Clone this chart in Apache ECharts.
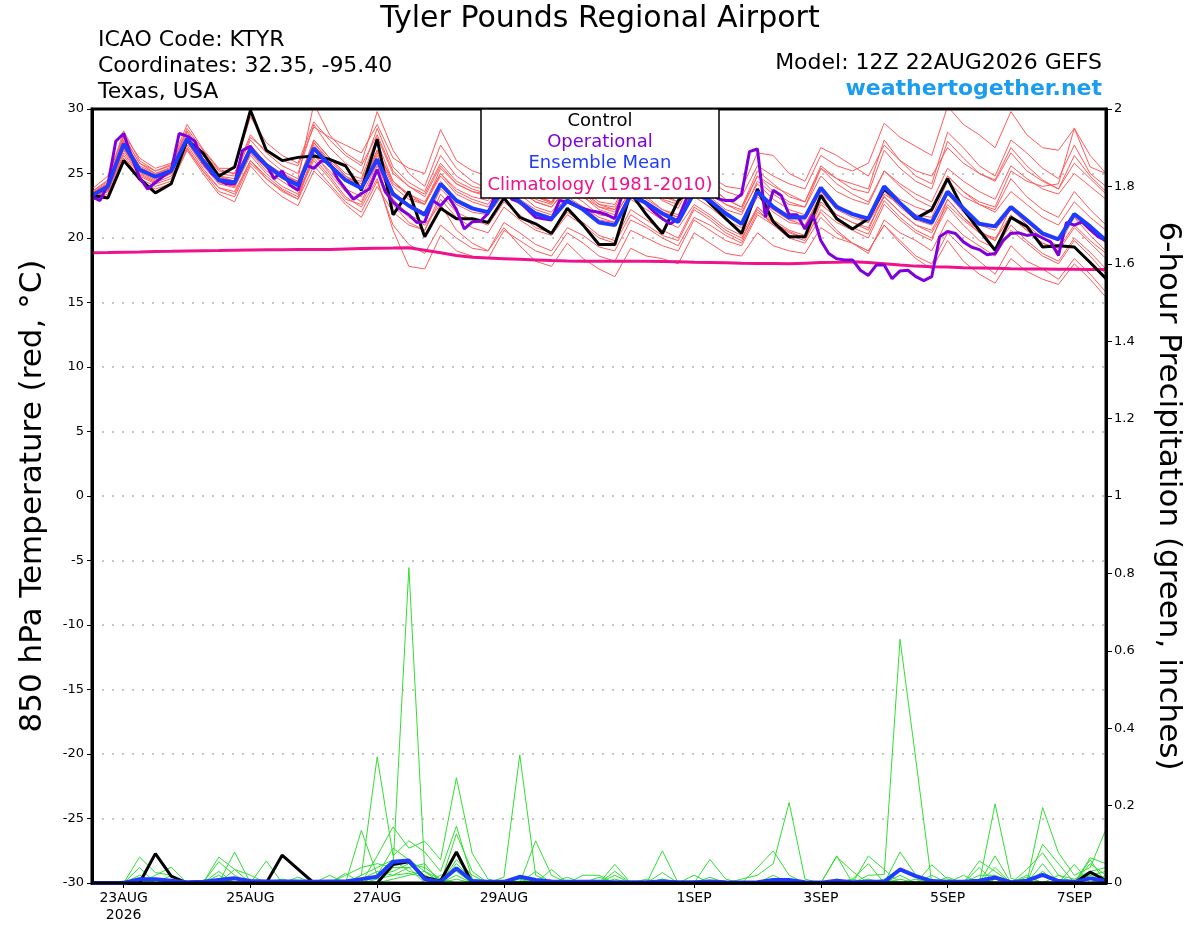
<!DOCTYPE html>
<html>
<head>
<meta charset="utf-8">
<script src="https://cdn.jsdelivr.net/npm/echarts@6/dist/echarts.min.js"></script>
<style>
html,body{margin:0;padding:0;background:#fff;}
#chart{width:1200px;height:927px;}
</style>
</head>
<body>
<div id="chart"></div>
<script>
// ---------- DATA ----------
// forecast hours start 12Z 22AUG2026; ensemble 6-hourly, operational 3-hourly
const ensStepHours = 6;
const opStepHours = 3;

const xTickHours = [12, 60, 108, 156, 228, 276, 324, 372];
const xTickLabels = ['23AUG\n2026', '25AUG', '27AUG', '29AUG', '1SEP', '3SEP', '5SEP', '7SEP'];

const controlTemp = [23.3,23.1,26.0,24.6,23.5,24.2,27.6,26.6,24.8,25.5,
  29.9,26.8,26.0,26.25,26.35,26.1,25.6,23.7,27.65,21.8,
  23.6,20.1,22.3,21.5,21.5,21.2,23.1,21.6,21.1,20.35,
  22.3,21.0,19.5,19.5,23.5,21.8,20.35,22.9,24.0,22.7,
  21.5,20.35,23.8,21.25,20.1,20.1,23.3,21.5,20.7,21.5,
  23.8,22.7,21.5,22.2,24.6,22.2,20.6,19.05,21.6,20.9,
  19.3,19.4,19.3,18.1,16.85];

const meanTemp = [23.3,24.0,27.3,25.3,24.75,25.2,27.7,26.0,24.5,24.3,
  26.9,25.65,24.75,24.1,26.95,25.65,24.5,23.85,26.1,23.4,
  22.5,21.8,24.2,22.9,22.3,22.0,23.8,22.8,21.9,21.5,
  22.9,22.2,21.2,21.0,23.3,22.7,21.9,21.25,23.5,22.9,
  21.9,21.1,23.6,22.4,21.6,21.6,23.9,22.4,21.85,21.5,
  24.0,22.7,21.6,21.2,23.6,22.3,21.1,20.9,22.4,21.4,
  20.35,19.9,21.85,20.9,19.8];

const operationalTemp = [23.2,22.9,24.1,27.5,28.1,26.3,24.7,23.8,24.3,24.8,
  25.2,28.1,27.9,27.5,25.9,25.1,24.5,24.2,24.2,26.8,
  27.1,26.2,25.65,24.6,25.2,24.1,23.7,25.65,25.4,26.0,
  25.8,24.6,23.8,23.0,23.45,23.8,25.3,23.6,22.8,22.2,
  21.8,21.2,21.25,22.9,22.5,23.2,22.2,20.7,21.25,21.3,
  21.9,23.5,24.0,23.0,22.8,22.2,21.6,21.5,21.4,22.9,
  22.8,22.5,22.3,22.1,22.0,21.8,21.5,23.5,24.5,23.2,
  22.6,22.0,21.5,21.1,21.5,23.0,24.5,24.0,23.5,23.05,
  22.9,22.9,23.4,26.7,26.9,21.6,23.7,23.3,21.8,21.8,
  20.7,21.8,19.8,18.8,18.4,18.3,18.3,17.5,17.1,17.9,
  17.9,16.85,17.45,17.5,17.0,16.7,17.0,20.1,20.5,20.35,
  19.7,19.3,19.1,18.7,18.8,19.8,20.35,20.4,20.2,20.3,
  20.0,19.7,18.65,21.2,21.0,21.25,20.65,20.1,19.8];

const climatologyTemp = [18.85,18.87,18.9,18.92,18.95,18.97,19.0,19.02,19.03,19.05,
  19.07,19.08,19.08,19.1,19.1,19.1,19.15,19.18,19.2,19.22,
  19.25,19.05,18.85,18.65,18.5,18.45,18.4,18.35,18.3,18.25,
  18.22,18.2,18.2,18.2,18.2,18.2,18.18,18.15,18.12,18.1,
  18.08,18.05,18.03,18.02,18.0,18.05,18.1,18.12,18.15,18.1,
  18.0,17.9,17.82,17.78,17.75,17.7,17.68,17.65,17.62,17.6,
  17.6,17.58,17.57,17.56,17.55];

const memberTempA = [23.6,24.5,28.3,26.0,25.2,25.6,28.5,26.8,25.3,25.0,28.0,26.6,25.6,25.0,28.8,27.0,25.8,25.0,28.5,25.5,24.3,23.6,26.4,24.8,24.0,23.7,25.6,24.2,23.2,22.7,24.4,23.5,22.4,22.0,24.6,23.8,22.9,22.3,24.8,24.0,23.0,22.4,25.2,24.2,23.2,22.8,25.6,24.6,23.8,23.5,26.8,25.4,24.4,23.8,27.5,26.2,25.0,24.5,27.0,25.6,24.5,23.8,26.4,24.8,23.6];
const memberTempB = [23.0,23.6,26.6,24.8,24.2,24.6,27.2,25.4,23.9,23.6,26.0,24.6,23.7,23.0,25.6,24.2,22.8,22.0,24.4,21.0,19.5,18.8,21.0,20.0,19.2,19.0,21.2,20.4,19.5,19.0,20.8,20.2,19.3,19.0,21.4,20.8,20.0,19.4,21.6,21.0,20.2,19.6,22.0,21.2,20.5,20.0,22.6,21.6,20.8,20.3,22.9,21.6,20.6,20.0,22.4,21.0,19.8,19.2,21.0,19.8,18.8,18.2,20.0,18.9,17.6];
const memberTempC = [23.4,24.2,27.8,25.8,25.0,25.5,28.2,26.4,25.0,24.8,27.6,26.2,25.2,24.6,30.4,28.0,26.6,25.8,29.8,26.8,25.0,24.0,27.2,25.4,24.4,23.8,25.8,24.4,23.4,22.8,24.6,23.6,22.6,22.2,24.0,23.2,22.2,21.8,23.6,22.8,21.8,21.2,23.4,22.0,21.2,21.0,23.2,21.8,21.2,20.8,23.2,22.0,21.0,20.6,23.0,21.6,20.4,20.0,21.6,20.6,19.6,19.2,21.0,19.8,18.8];
const memberTempD = [23.2,23.8,27.0,25.0,24.4,25.0,27.5,25.8,24.4,24.0,26.6,25.2,24.4,23.6,26.2,24.8,23.2,22.4,24.6,20.6,17.8,17.6,20.2,19.0,18.6,18.4,20.6,19.8,19.0,18.6,20.4,19.6,18.6,18.2,20.6,20.0,19.4,19.0,21.4,20.6,19.8,19.4,21.8,21.0,20.2,19.8,22.2,21.2,20.6,20.0,22.6,21.4,20.4,19.8,23.0,21.6,20.6,19.8,22.4,21.0,20.0,19.4,21.6,20.2,19.0];
const memberTempE = [23.5,24.3,27.6,25.6,25.0,25.4,27.9,26.2,24.8,24.6,27.2,25.8,25.0,24.4,27.4,26.0,24.8,24.2,26.8,24.2,23.4,22.8,25.0,23.8,23.2,22.9,24.6,23.6,22.8,22.4,23.8,23.2,22.4,22.2,24.4,23.8,23.2,22.8,25.0,24.4,23.6,23.2,25.6,24.8,24.2,23.8,26.4,25.6,25.2,25.8,28.9,27.8,27.1,26.4,30.2,28.8,28.0,27.0,29.8,28.0,27.0,26.8,28.5,25.5,25.0];
const memberTempF = [23.1,23.9,26.9,25.1,24.5,25.0,27.4,25.6,24.2,23.9,26.4,25.0,24.0,23.4,26.0,24.6,23.0,22.6,25.2,22.6,21.2,20.6,23.4,22.0,21.4,21.0,22.8,21.8,20.8,20.4,22.0,21.2,20.2,19.8,22.2,21.4,20.6,20.0,22.4,21.6,20.6,20.0,22.2,21.0,20.0,19.6,21.6,20.4,19.6,19.0,21.0,19.8,18.6,18.0,20.4,19.2,18.2,17.2,19.4,18.2,17.6,16.8,18.4,17.2,15.8];
const memberTempG = [23.8,24.8,28.0,26.2,25.4,25.8,28.8,26.9,25.4,25.4,29.4,27.4,26.4,25.8,29.0,27.6,26.4,25.6,28.0,25.2,24.0,23.2,25.6,24.2,23.6,23.4,25.2,24.0,23.0,22.6,24.4,23.6,22.6,22.4,24.6,23.8,23.0,22.6,24.8,24.0,23.0,22.4,24.8,23.6,22.8,22.4,24.8,23.6,23.0,22.6,25.2,24.0,23.0,22.4,24.8,23.6,22.6,22.0,23.6,22.6,21.6,21.0,22.8,21.6,20.6];
const memberTempH = [23.3,24.0,27.2,25.2,24.6,25.1,27.6,25.9,24.6,24.2,26.8,25.6,24.8,24.2,27.0,25.6,24.4,23.8,26.4,23.6,22.6,22.0,24.4,23.0,22.4,22.0,23.8,22.8,22.0,21.6,23.0,22.2,21.2,21.0,23.2,22.6,21.8,21.2,23.4,22.8,21.8,21.0,23.4,22.2,21.4,21.4,23.6,22.2,21.6,21.2,23.6,22.4,21.4,21.0,23.4,22.0,21.0,20.6,22.2,21.2,20.2,19.8,21.6,20.6,19.6];
const memberTempI = [22.9,23.4,26.2,24.4,23.8,24.2,26.8,25.0,23.4,22.8,25.6,24.2,23.2,22.5,25.2,24.0,22.6,21.6,24.0,22.0,21.0,20.6,23.0,21.6,20.8,20.4,22.4,21.4,20.6,20.2,21.8,21.0,20.0,19.6,21.8,21.0,20.2,19.8,22.2,21.4,20.4,19.8,22.4,21.4,20.6,20.2,22.8,21.8,21.2,20.6,23.4,22.6,21.8,21.6,24.4,23.2,22.6,22.2,24.6,23.2,22.2,21.6,23.6,22.2,21.0];
const memberTempJ = [23.6,24.4,27.9,25.8,25.2,25.7,28.3,26.6,25.2,25.0,27.8,26.8,26.0,25.6,28.6,27.8,27.2,26.6,28.8,26.2,25.4,25.0,28.4,26.0,25.2,24.8,26.2,25.0,24.2,23.8,25.2,24.2,23.4,23.0,25.0,24.2,23.4,22.8,24.6,23.6,22.6,22.0,24.2,23.0,22.2,21.8,23.8,22.6,21.8,21.2,23.2,22.0,21.0,20.4,22.6,21.4,20.4,19.8,21.8,20.6,19.6,19.0,20.8,19.6,18.4];
const memberTempK = [23.2,23.7,26.8,24.9,24.3,24.8,27.0,25.2,23.6,23.2,25.8,24.6,23.6,23.0,26.4,25.2,23.8,23.2,25.8,22.8,21.6,21.0,22.6,20.6,19.6,19.0,20.8,19.4,18.2,17.8,19.6,18.4,17.6,17.0,19.2,18.6,18.4,18.0,20.4,19.6,18.8,18.6,20.4,19.4,19.0,18.8,20.8,20.0,19.6,18.8,21.4,20.4,19.8,19.0,21.4,20.2,19.4,18.6,20.6,19.6,18.6,18.0,19.8,18.6,17.2];
const memberTempL = [23.4,24.1,27.4,25.5,24.9,25.3,27.8,26.1,24.7,24.4,27.0,25.7,24.9,24.3,27.2,25.8,24.6,24.0,26.6,24.0,23.0,22.6,25.4,24.2,23.6,23.2,24.8,24.0,23.2,22.8,24.6,23.8,22.8,22.6,24.8,24.4,23.6,23.2,25.6,24.8,24.0,23.8,26.6,26.4,25.0,24.4,27.0,26.4,25.6,24.8,27.2,26.0,25.2,24.8,27.0,25.8,25.0,24.4,26.6,25.2,24.4,23.8,25.8,24.6,23.4];
const memberTempM = [23.0,23.8,27.1,25.3,24.7,25.0,27.4,25.7,24.3,24.0,26.6,25.4,24.6,24.0,27.6,26.2,24.8,24.0,26.8,24.4,23.4,22.6,24.8,23.4,22.8,22.4,24.0,23.0,22.2,21.8,23.2,22.4,21.4,21.2,23.0,22.2,21.4,20.8,22.6,21.8,20.8,20.2,22.4,21.2,20.4,20.0,22.0,20.6,19.6,19.0,21.0,19.6,18.4,17.6,19.8,18.2,17.2,16.5,18.4,17.4,16.8,16.4,18.0,16.8,15.4];
const memberTempN = [23.5,24.2,27.5,25.4,24.8,25.2,27.7,26.0,24.6,24.4,27.0,25.6,24.8,24.2,27.4,25.8,24.6,24.4,27.4,24.4,23.2,22.6,25.0,23.6,23.0,22.6,24.4,23.4,22.4,22.0,23.6,22.8,21.8,21.6,23.8,23.0,22.2,21.6,23.8,23.2,22.2,21.8,24.4,23.4,22.6,22.4,25.4,24.6,24.2,23.8,27.6,26.0,24.8,24.2,28.2,27.0,25.6,24.8,27.6,26.6,25.4,24.6,27.2,25.0,24.0];
const memberTempO = [23.1,23.6,26.4,24.6,24.0,24.4,26.9,25.2,23.9,23.4,26.0,24.8,23.8,23.2,26.6,25.0,23.6,22.8,25.6,23.0,21.8,21.2,23.8,22.6,22.0,21.8,23.4,22.6,21.8,21.4,23.0,22.4,21.6,21.2,23.6,22.8,22.0,21.6,24.0,23.4,22.6,22.2,24.8,24.0,23.4,22.8,25.4,24.2,23.4,22.8,25.2,24.2,23.4,22.8,25.4,24.4,23.6,23.0,25.6,24.6,23.8,23.4,25.0,24.0,23.0];
const memberTempP = [23.4,24.0,27.4,25.4,24.8,25.4,27.8,26.2,24.8,24.4,27.2,25.8,24.8,24.4,27.6,26.2,25.0,24.6,27.8,25.0,24.0,23.4,25.8,24.4,23.8,23.4,25.0,23.8,22.8,22.4,24.0,23.2,22.2,21.8,23.6,22.8,22.0,21.4,23.2,22.4,21.4,20.8,23.2,22.2,21.4,21.0,23.4,22.4,21.8,21.4,24.0,23.0,22.4,22.0,24.8,23.6,22.8,22.4,25.2,24.4,24.0,24.2,28.5,26.4,25.0];

const memberTemps = [memberTempA, memberTempB, memberTempC, memberTempD, memberTempE, memberTempF, memberTempG, memberTempH,
  memberTempI, memberTempJ, memberTempK, memberTempL, memberTempM, memberTempN, memberTempO, memberTempP];

const controlPrecip = [0,0,0,0,0.076,0.018,0,0,0,0,
  0,0,0.072,0.036,0,0,0,0,0,0.048,
  0.055,0.014,0.005,0.08,0,0,0,0,0,0,
  0,0,0,0,0,0,0,0,0,0,
  0,0,0,0,0,0,0,0,0,0,
  0,0,0,0,0,0,0,0,0,0,
  0,0,0,0.028,0.006];

const meanPrecip = [0,0,0,0.01,0.01,0.006,0.002,0.003,0.008,0.012,
  0.005,0.004,0.004,0.004,0.003,0.004,0.004,0.01,0.016,0.055,
  0.058,0.01,0.003,0.038,0.005,0.003,0.003,0.016,0.008,0.004,
  0.003,0.003,0.003,0.002,0.002,0.002,0.004,0.002,0.002,0.004,
  0.002,0.001,0.002,0.008,0.008,0.002,0.001,0.006,0.002,0.003,
  0.003,0.035,0.018,0.005,0.003,0.003,0.006,0.014,0.002,0.006,
  0.021,0.005,0.003,0.012,0.005];

const memberPrecip1 = [0,0,0,0.02,0,0,0,0,0.03,0, 0,0,0,0,0,0,0.02,0.04,0.05,0.04, 0.815,0.03,0,0.06,0.02,0,0,0,0.03,0, 0,0,0,0.03,0,0,0.083,0,0,0, 0,0,0,0.02,0,0,0,0,0.01,0.05, 0,0,0,0,0,0,0.04,0,0,0, 0.1,0.05,0,0.06,0];
const memberPrecip2 = [0,0,0,0.067,0.027,0.02,0,0,0,0.08, 0,0,0,0,0,0,0,0.02,0.326,0.07, 0.109,0.08,0.03,0.147,0.01,0,0,0.02,0,0, 0,0,0,0,0,0,0.027,0,0,0, 0,0,0,0,0.01,0,0,0.07,0,0, 0,0.08,0.02,0,0,0,0,0.07,0,0.035, 0.078,0.02,0,0.065,0.05];
const memberPrecip3 = [0,0,0,0,0.02,0.041,0,0,0.067,0.035, 0,0,0,0.015,0,0,0.025,0,0.07,0.145, 0.09,0.108,0.06,0.272,0.076,0.01,0,0,0,0.035, 0,0,0,0.048,0,0,0,0,0,0.061, 0.01,0,0,0,0,0,0,0,0,0.07, 0.035,0,0,0,0,0.02,0,0.204,0.012,0, 0,0,0.048,0,0.02];
const memberPrecip4 = [0,0,0,0.04,0,0,0,0,0.055,0.02, 0,0.057,0,0,0,0,0,0.136,0.02,0.09, 0.06,0.03,0,0.127,0.03,0,0.015,0.331,0.02,0, 0,0.02,0.02,0,0,0,0,0,0,0, 0,0,0.04,0.083,0.02,0,0,0.068,0.03,0, 0,0,0,0.047,0.01,0,0,0,0,0, 0.05,0,0,0.03,0];
const memberPrecip5 = [0,0,0,0,0,0.02,0,0,0,0.035, 0.02,0,0.01,0,0,0.02,0,0,0,0.04, 0.04,0,0.02,0.03,0,0,0,0,0.109,0.02, 0,0,0.015,0,0,0,0.01,0,0.02,0, 0,0.01,0.02,0.05,0.208,0.01,0,0,0,0.02, 0.022,0.63,0.318,0,0,0,0.057,0.03,0,0, 0.195,0.078,0.02,0.04,0.139];
const memberPrecip6 = [0,0,0,0.01,0,0,0,0,0.02,0, 0,0,0,0,0,0,0,0.01,0.03,0.02, 0.04,0.05,0,0.02,0,0,0,0,0.01,0, 0,0,0,0.01,0,0,0.01,0,0,0, 0,0,0,0,0,0,0,0,0,0.01, 0,0.02,0,0,0,0,0.02,0.02,0,0.02, 0,0,0,0.02,0.03];
const memberPrecip7 = [0,0,0,0,0.01,0,0,0,0,0.01, 0,0,0,0,0,0,0,0,0.02,0.03, 0.05,0.04,0.01,0,0.005,0,0,0.01,0,0, 0,0,0,0,0,0,0,0,0,0.015, 0,0,0,0,0,0,0,0.01,0,0, 0.01,0,0,0.02,0,0,0,0.04,0,0, 0.03,0,0,0.05,0.02];
const memberPrecip8 = [0,0,0.005,0,0,0.01,0,0,0.01,0, 0,0,0,0,0,0,0,0.02,0.04,0.06, 0.03,0.02,0,0.05,0.01,0,0,0,0,0, 0.015,0,0,0.02,0,0.01,0,0,0,0, 0,0,0,0,0.01,0,0,0,0.01,0, 0,0,0.01,0,0.015,0,0,0.01,0,0.015, 0,0.02,0.01,0.03,0.04];
const memberPrecip9 = [0,0,0,0,0,0,0,0,0,0, 0,0,0,0,0,0,0,0,0.01,0.02, 0.025,0.015,0,0.01,0,0,0,0,0,0.005, 0,0,0,0,0,0,0,0,0,0, 0,0,0,0,0,0,0,0.005,0,0, 0,0,0,0,0,0,0.01,0,0,0, 0.02,0,0,0.02,0];
const memberPrecip10 = [0,0,0,0,0,0,0,0,0.005,0, 0,0,0,0,0,0,0,0,0,0.01, 0.02,0.03,0.01,0,0,0,0,0.005,0,0, 0,0,0,0,0,0,0,0,0,0, 0,0,0,0.005,0,0,0,0,0,0, 0,0.01,0,0,0,0,0,0.01,0,0, 0,0,0.005,0,0.01];

const memberPrecips = [memberPrecip1, memberPrecip2, memberPrecip3, memberPrecip4, memberPrecip5,
  memberPrecip6, memberPrecip7, memberPrecip8, memberPrecip9, memberPrecip10];

// ---------- CHART ----------
const FONT = 'DejaVu Sans';
const toPts = (arr, step) => arr.map((v, i) => [i * step, v]);
const lineSeries = (arr, step, axis, color, width, z) => ({
  type: 'line', xAxisIndex: 0, yAxisIndex: axis, data: toPts(arr, step),
  showSymbol: false, symbol: 'none', smooth: false, clip: true, z: z,
  lineStyle: { color: color, width: width }, emphasis: { disabled: true }, silent: true
});

const series = [];
memberTemps.forEach(m => series.push(lineSeries(m, ensStepHours, 0, '#ff5c5c', 1, 2)));
memberPrecips.forEach(m => series.push(lineSeries(m, ensStepHours, 1, '#33dd33', 1, 2)));
series.push(lineSeries(climatologyTemp, ensStepHours, 0, '#f0128a', 3, 3));
series.push(lineSeries(controlTemp, ensStepHours, 0, '#000000', 3, 4));
series.push(lineSeries(operationalTemp, opStepHours, 0, '#7f00dc', 3, 5));
series.push(lineSeries(meanTemp, ensStepHours, 0, '#1e3cff', 4, 6));
series.push(lineSeries(controlPrecip, ensStepHours, 1, '#000000', 3, 4));
series.push(lineSeries(meanPrecip, ensStepHours, 1, '#1e3cff', 4, 6));

const chart = echarts.init(document.getElementById('chart'), null, { renderer: 'canvas' });
const legendTexts = [
  { t: 'Control', c: '#000000', y: 121 },
  { t: 'Operational', c: '#7f00dc', y: 142 },
  { t: 'Ensemble Mean', c: '#1e3cff', y: 163 },
  { t: 'Climatology (1981-2010)', c: '#f0128a', y: 185 }
];

chart.setOption({
  animation: false,
  backgroundColor: '#ffffff',
  grid: { left: 92, right: 94, top: 109, bottom: 44, show: true, borderColor: '#000', borderWidth: 3, backgroundColor: 'transparent', z: 10 },
  xAxis: {
    type: 'value', min: 0, max: 384,
    axisLine: { show: true, onZero: false, lineStyle: { color: '#000', width: 3 } },
    axisTick: { show: true, customValues: xTickHours, length: 5, inside: false, lineStyle: { color: '#000', width: 1 } },
    axisLabel: {
      customValues: xTickHours, margin: 7, color: '#000', fontFamily: FONT, fontSize: 14, lineHeight: 17,
      formatter: v => { const k = xTickHours.indexOf(v); return k >= 0 ? xTickLabels[k] : ''; }
    },
    splitLine: { show: false }
  },
  yAxis: [
    {
      type: 'value', min: -30, max: 30, interval: 5, position: 'left',
      axisLine: { show: true, onZero: false, lineStyle: { color: '#000', width: 3 } },
      axisTick: { show: true, length: 5, lineStyle: { color: '#000', width: 1 } },
      axisLabel: { color: '#000', fontFamily: FONT, fontSize: 13, margin: 8 },
      splitLine: { show: true, lineStyle: { color: '#b4b4b4', width: 1.5, type: [2, 8] } }
    },
    {
      type: 'value', min: 0, max: 2, interval: 0.2, position: 'right',
      axisLine: { show: true, onZero: false, lineStyle: { color: '#000', width: 3 } },
      axisTick: { show: true, length: 6, lineStyle: { color: '#000', width: 1 } },
      axisLabel: { color: '#000', fontFamily: FONT, fontSize: 13, margin: 8 },
      splitLine: { show: false }
    }
  ],
  series: series,
  graphic: [
    { type: 'text', left: 'center', top: 4, style: { text: 'Tyler Pounds Regional Airport', fontFamily: FONT, fontSize: 30, fill: '#000' } },
    { type: 'text', x: 98, y: 40, style: { text: 'ICAO Code: KTYR', fontFamily: FONT, fontSize: 22, fill: '#000', textVerticalAlign: 'middle' } },
    { type: 'text', x: 98, y: 66, style: { text: 'Coordinates: 32.35, -95.40', fontFamily: FONT, fontSize: 22, fill: '#000', textVerticalAlign: 'middle' } },
    { type: 'text', x: 98, y: 92, style: { text: 'Texas, USA', fontFamily: FONT, fontSize: 22, fill: '#000', textVerticalAlign: 'middle' } },
    { type: 'text', x: 1102, y: 63, style: { text: 'Model: 12Z 22AUG2026 GEFS', fontFamily: FONT, fontSize: 22, fill: '#000', textAlign: 'right', textVerticalAlign: 'middle' } },
    { type: 'text', x: 1102, y: 89, style: { text: 'weathertogether.net', fontFamily: FONT, fontSize: 22, fontWeight: 'bold', fill: '#1a9cf0', textAlign: 'right', textVerticalAlign: 'middle' } },
    { type: 'text', x: 33, y: 496, rotation: Math.PI / 2, style: { text: '850 hPa Temperature (red, °C)', fontFamily: FONT, fontSize: 31, fill: '#000', textAlign: 'center', textVerticalAlign: 'middle' } },
    { type: 'text', x: 1168, y: 496, rotation: -Math.PI / 2, style: { text: '6-hour Precipitation (green, inches)', fontFamily: FONT, fontSize: 31, fill: '#000', textAlign: 'center', textVerticalAlign: 'middle' } },
    {
      type: 'group', z: 100,
      children: [
        { type: 'rect', shape: { x: 481, y: 109, width: 238, height: 89 }, style: { fill: '#fff', stroke: '#000', lineWidth: 1.5 }, z: 100 }
      ].concat(legendTexts.map(l => ({
        type: 'text', x: 600, y: l.y, z: 101,
        style: { text: l.t, fontFamily: FONT, fontSize: 18, fill: l.c, textAlign: 'center', textVerticalAlign: 'middle' }
      })))
    }
  ]
});
</script>
</body>
</html>
